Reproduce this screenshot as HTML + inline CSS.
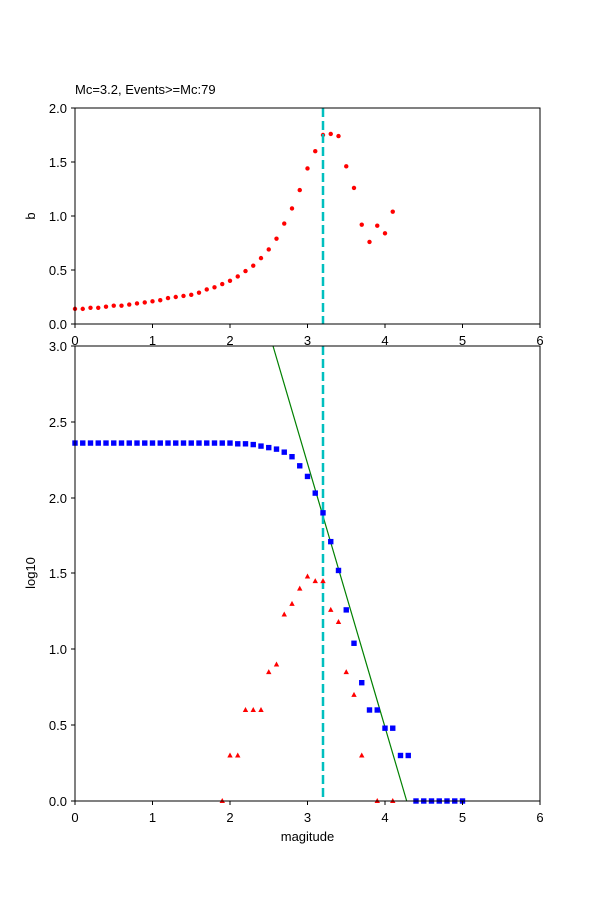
<!DOCTYPE html>
<html><head><meta charset="utf-8"><style>
body{margin:0;background:#fff}
svg text{font-family:"Liberation Sans","DejaVu Sans",sans-serif;font-size:13px;fill:#000}
</style></head><body>
<svg id="s" width="600" height="900" viewBox="0 0 600 900" xmlns="http://www.w3.org/2000/svg">
<rect width="600" height="900" fill="#fff"/>
<g id="gtop"></g>
<g id="gbot"></g>
<rect x="75" y="108" width="465" height="216" fill="none" stroke="#000" stroke-width="1"/>
<text x="75" y="94">Mc=3.2, Events&gt;=Mc:79</text>
<g text-anchor="end">
<text x="67" y="329">0.0</text><text x="67" y="275">0.5</text><text x="67" y="221">1.0</text><text x="67" y="167">1.5</text><text x="67" y="113">2.0</text>
</g>
<g stroke="#000"><line x1="71" y1="324" x2="75" y2="324"/><line x1="71" y1="270" x2="75" y2="270"/><line x1="71" y1="216" x2="75" y2="216"/><line x1="71" y1="162" x2="75" y2="162"/><line x1="71" y1="108" x2="75" y2="108"/></g>
<text x="35" y="216" text-anchor="middle" transform="rotate(-90 35 216)">b</text>
<rect x="75" y="346" width="465" height="455" fill="none" stroke="#000" stroke-width="1"/>
<g text-anchor="end">
<text x="67" y="806">0.0</text><text x="67" y="730">0.5</text><text x="67" y="654">1.0</text><text x="67" y="578">1.5</text><text x="67" y="503">2.0</text><text x="67" y="427">2.5</text><text x="67" y="351">3.0</text>
</g>
<g stroke="#000"><line x1="71" y1="801" x2="75" y2="801"/><line x1="71" y1="725" x2="75" y2="725"/><line x1="71" y1="649" x2="75" y2="649"/><line x1="71" y1="573" x2="75" y2="573"/><line x1="71" y1="498" x2="75" y2="498"/><line x1="71" y1="422" x2="75" y2="422"/><line x1="71" y1="346" x2="75" y2="346"/></g>
<text x="35" y="573" text-anchor="middle" transform="rotate(-90 35 573)">log10</text>
<g text-anchor="middle">
<text x="75" y="345">0</text><text x="152.5" y="345">1</text><text x="230" y="345">2</text><text x="307.5" y="345">3</text><text x="385" y="345">4</text><text x="462.5" y="345">5</text><text x="540" y="345">6</text>
<text x="75" y="822">0</text><text x="152.5" y="822">1</text><text x="230" y="822">2</text><text x="307.5" y="822">3</text><text x="385" y="822">4</text><text x="462.5" y="822">5</text><text x="540" y="822">6</text>
<text x="307.5" y="841">magitude</text>
</g>
<g stroke="#000"><line x1="75" y1="324" x2="75" y2="328"/><line x1="152.5" y1="324" x2="152.5" y2="328"/><line x1="230" y1="324" x2="230" y2="328"/><line x1="307.5" y1="324" x2="307.5" y2="328"/><line x1="385" y1="324" x2="385" y2="328"/><line x1="462.5" y1="324" x2="462.5" y2="328"/><line x1="540" y1="324" x2="540" y2="328"/>
<line x1="75" y1="801" x2="75" y2="805"/><line x1="152.5" y1="801" x2="152.5" y2="805"/><line x1="230" y1="801" x2="230" y2="805"/><line x1="307.5" y1="801" x2="307.5" y2="805"/><line x1="385" y1="801" x2="385" y2="805"/><line x1="462.5" y1="801" x2="462.5" y2="805"/><line x1="540" y1="801" x2="540" y2="805"/></g>
</svg>
<script>
(function(){
var NS="http://www.w3.org/2000/svg";
function X(m){return 75+m*77.5}
function el(p,t,a){var e=document.createElementNS(NS,t);for(var k in a)e.setAttribute(k,a[k]);p.appendChild(e);return e}
var gt=document.getElementById("gtop"),gb=document.getElementById("gbot");
var b=[0.14,0.14,0.15,0.15,0.16,0.17,0.17,0.18,0.19,0.20,0.21,0.22,0.24,0.25,0.26,0.27,0.29,0.32,0.34,0.37,0.40,0.44,0.49,0.54,0.61,0.69,0.79,0.93,1.07,1.24,1.44,1.60,1.75,1.76,1.74,1.46,1.26,0.92,0.76,0.91,0.84,1.04];
b.forEach(function(v,i){el(gt,"circle",{cx:X(i*0.1),cy:324-v*108,r:2.2,fill:"red"})});
el(gt,"line",{x1:323,y1:108,x2:323,y2:324,stroke:"#00bfbf","stroke-width":2.5,"stroke-dasharray":"9,4"});
function Y(v){return 801-v*151.67}
el(gb,"line",{x1:X(2.555),y1:346,x2:X(4.28),y2:801,stroke:"green","stroke-width":1.2});
el(gb,"line",{x1:323,y1:346,x2:323,y2:801,stroke:"#00bfbf","stroke-width":2.5,"stroke-dasharray":"9,4"});
var blue=[];for(var i=0;i<20;i++)blue.push(2.36);
blue=blue.concat([2.36,2.355,2.355,2.35,2.34,2.33,2.32,2.30,2.27,2.21,2.14,2.03,1.90,1.71,1.52,1.26,1.04,0.78,0.60,0.60,0.48,0.48,0.30,0.30,0,0,0,0,0,0,0]);
blue.forEach(function(v,i){var x=X(i*0.1),y=Y(v);el(gb,"rect",{x:x-2.7,y:y-2.7,width:5.4,height:5.4,fill:"blue"})});
var red=[[1.9,0],[2.0,0.30],[2.1,0.30],[2.2,0.60],[2.3,0.60],[2.4,0.60],[2.5,0.85],[2.6,0.90],[2.7,1.23],[2.8,1.30],[2.9,1.40],[3.0,1.48],[3.1,1.45],[3.2,1.45],[3.3,1.26],[3.4,1.18],[3.5,0.85],[3.6,0.70],[3.7,0.30],[3.9,0],[4.1,0]];
red.forEach(function(p){var x=X(p[0]),y=Y(p[1]);el(gb,"polygon",{points:x+","+(y-3)+" "+(x-2.7)+","+(y+2)+" "+(x+2.7)+","+(y+2),fill:"red"})});
})();
</script>
</body></html>
